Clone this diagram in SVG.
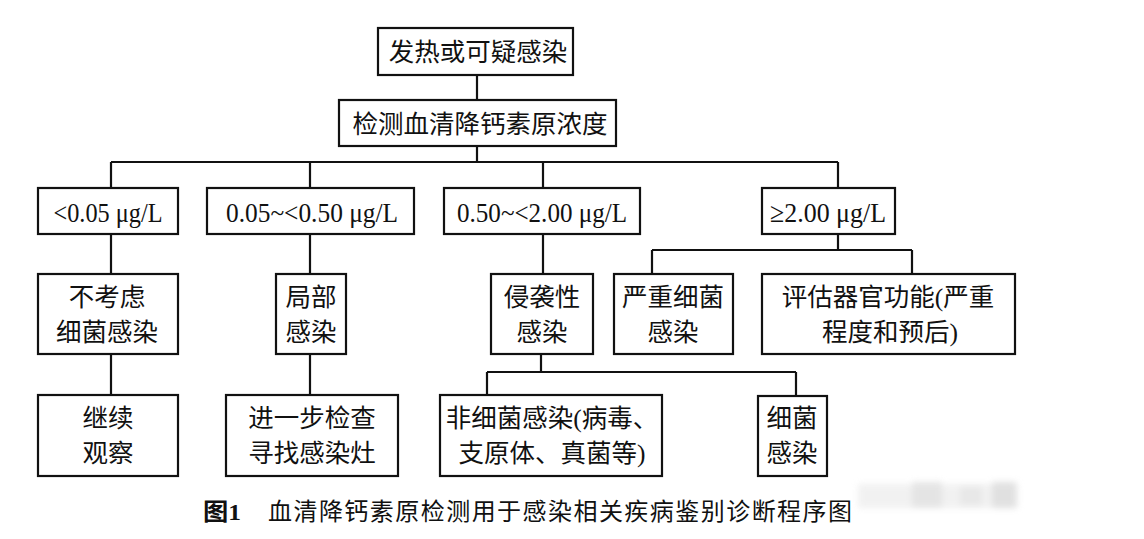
<svg xmlns="http://www.w3.org/2000/svg" width="1144" height="539" viewBox="0 0 1144 539">
<defs>
<style>
.box{fill:#fff;stroke:#111;stroke-width:2.2}
.cn{font-family:"Liberation Serif","Noto Sans CJK SC",serif;font-size:25.5px;fill:#111;text-anchor:middle;dominant-baseline:central}
.num{font-family:"Liberation Serif","Noto Sans CJK SC",serif;font-size:28px;fill:#111;text-anchor:middle}
.cap{font-family:"Liberation Serif","Noto Sans CJK SC",serif;font-size:24px;fill:#111}
#connectors path{fill:none;stroke:#111;stroke-width:2.2}
</style>
<filter id="blur" x="-20%" y="-50%" width="140%" height="200%"><feGaussianBlur stdDeviation="3"/></filter>
</defs>
<rect width="1144" height="539" fill="#fff"/>

<g id="connectors">
<path d="M477,75V100"/>
<path d="M477,146V162"/>
<path d="M111,162H838"/>
<path d="M111,162V188M310,162V188M543,162V188M838,162V188"/>
<path d="M111,234V274M310,234V274M543,234V274"/>
<path d="M838,234V250M652,250H912M652,250V274M912,250V274"/>
<path d="M111,354V395M310,354V395"/>
<path d="M541,354V372M487,372H796M487,372V395M796,372V396"/>
</g>

<g id="n-fever">
<rect class="box" x="378" y="28" width="195" height="47"/>
<text class="cn" x="478" y="52">发热或可疑感染</text>
</g>
<g id="n-detect">
<rect class="box" x="339" y="100" width="277" height="46"/>
<text class="cn" x="480" y="124">检测血清降钙素原浓度</text>
</g>

<g id="t1">
<rect class="box" x="38" y="188" width="140" height="46"/>
<text class="num" x="108" y="222" textLength="109" lengthAdjust="spacingAndGlyphs">&lt;0.05 μg/L</text>
</g>
<g id="t2">
<rect class="box" x="207" y="188" width="207" height="46"/>
<text class="num" x="312" y="222" textLength="172" lengthAdjust="spacingAndGlyphs">0.05~&lt;0.50 μg/L</text>
</g>
<g id="t3">
<rect class="box" x="444" y="188" width="196" height="46"/>
<text class="num" x="542" y="222" textLength="170" lengthAdjust="spacingAndGlyphs">0.50~&lt;2.00 μg/L</text>
</g>
<g id="t4">
<rect class="box" x="762" y="188" width="133" height="46"/>
<text class="num" x="828" y="222" textLength="116" lengthAdjust="spacingAndGlyphs">≥2.00 μg/L</text>
</g>

<g id="r1">
<rect class="box" x="38" y="274" width="140" height="80"/>
<text class="cn" x="107" y="297">不考虑</text>
<text class="cn" x="107" y="332">细菌感染</text>
</g>
<g id="r2">
<rect class="box" x="276" y="274" width="70" height="80"/>
<text class="cn" x="311" y="297">局部</text>
<text class="cn" x="311" y="332">感染</text>
</g>
<g id="r3">
<rect class="box" x="491" y="274" width="102" height="80"/>
<text class="cn" x="542" y="297">侵袭性</text>
<text class="cn" x="542" y="332">感染</text>
</g>
<g id="r4">
<rect class="box" x="614" y="274" width="119" height="80"/>
<text class="cn" x="673" y="297">严重细菌</text>
<text class="cn" x="673" y="332">感染</text>
</g>
<g id="r5">
<rect class="box" x="762" y="274" width="253" height="80"/>
<text class="cn" x="888" y="297">评估器官功能(严重</text>
<text class="cn" x="890" y="332">程度和预后)</text>
</g>

<g id="b1">
<rect class="box" x="38" y="395" width="140" height="81"/>
<text class="cn" x="108" y="418">继续</text>
<text class="cn" x="108" y="453">观察</text>
</g>
<g id="b2">
<rect class="box" x="226" y="395" width="172" height="81"/>
<text class="cn" x="312" y="418">进一步检查</text>
<text class="cn" x="312" y="453">寻找感染灶</text>
</g>
<g id="b3">
<rect class="box" x="440" y="395" width="222" height="81"/>
<text class="cn" x="552" y="418">非细菌感染(病毒、</text>
<text class="cn" x="552" y="453">支原体、真菌等)</text>
</g>
<g id="b4">
<rect class="box" x="758" y="396" width="69" height="80"/>
<text class="cn" x="792" y="418">细菌</text>
<text class="cn" x="792" y="453">感染</text>
</g>

<g id="caption">
<text class="cap" x="203" y="520" font-weight="bold" textLength="38" lengthAdjust="spacingAndGlyphs">图1</text>
<text class="cap" x="268" y="520" textLength="584" lengthAdjust="spacing">血清降钙素原检测用于感染相关疾病鉴别诊断程序图</text>
</g>

<g id="watermark" filter="url(#blur)" opacity="0.55">
<rect x="858" y="484" width="160" height="24" fill="#e6e6e6"/>
<rect x="912" y="482" width="30" height="26" fill="#cfcfcf"/>
<rect x="960" y="486" width="22" height="20" fill="#d6d6d6"/>
<rect x="992" y="482" width="24" height="26" fill="#c8c8c8"/>
</g>
</svg>
